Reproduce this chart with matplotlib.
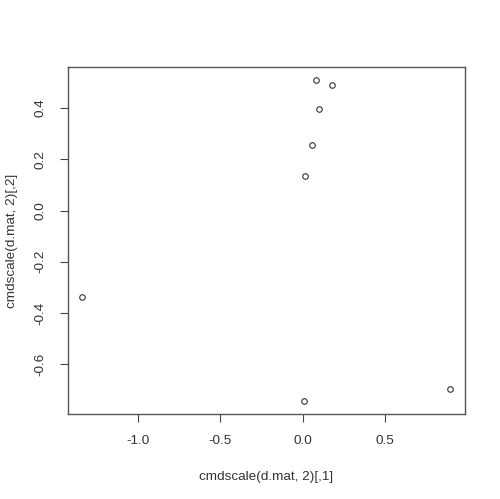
import matplotlib
matplotlib.use("Agg")
import matplotlib.pyplot as plt

# MDS coordinates
dim1 = [-1.337, 0.083, 0.180, 0.097, 0.055, 0.012, 0.006, 0.895]
dim2 = [-0.336, 0.509, 0.492, 0.397, 0.257, 0.133, -0.746, -0.699]

x_ticks = [-1.0, -0.5, 0.0, 0.5]
y_ticks = [-0.6, -0.4, -0.2, 0.0, 0.2, 0.4]

plt.rcParams['font.family'] = ['Liberation Sans', 'DejaVu Sans']

fig = plt.figure(figsize=(5, 4.99), dpi=100)
ax = fig.add_axes([0.135, 0.1697, 0.795, 0.6953])

ax.plot(dim1, dim2, linestyle='none', marker='o', markersize=4,
        markerfacecolor='none', markeredgecolor='#333333', markeredgewidth=0.8)

# R style 4% padding
xr = max(dim1) - min(dim1)
yr = max(dim2) - min(dim2)
ax.set_xlim(min(dim1) - 0.04 * xr, max(dim1) + 0.04 * xr)
ax.set_ylim(min(dim2) - 0.04 * yr, max(dim2) + 0.04 * yr)

ax.set_xticks(x_ticks)
ax.set_xticklabels(["%.1f" % v for v in x_ticks])
ax.set_yticks(y_ticks)
ax.set_yticklabels(["%.1f" % v for v in y_ticks], rotation=90, va='center')

ax.tick_params(direction='out', length=6, width=0.8, colors='#444444',
               labelcolor='#333333', labelsize=9.7, pad=9)
for s in ax.spines.values():
    s.set_color('#555555')
    s.set_linewidth(1)

ax.set_xlabel("cmdscale(d.mat, 2)[,1]", fontsize=9.7, color='#333333', labelpad=17)
ax.set_ylabel("cmdscale(d.mat, 2)[,2]", fontsize=9.7, color='#333333', labelpad=12)

fig.savefig("out.png", dpi=100)
